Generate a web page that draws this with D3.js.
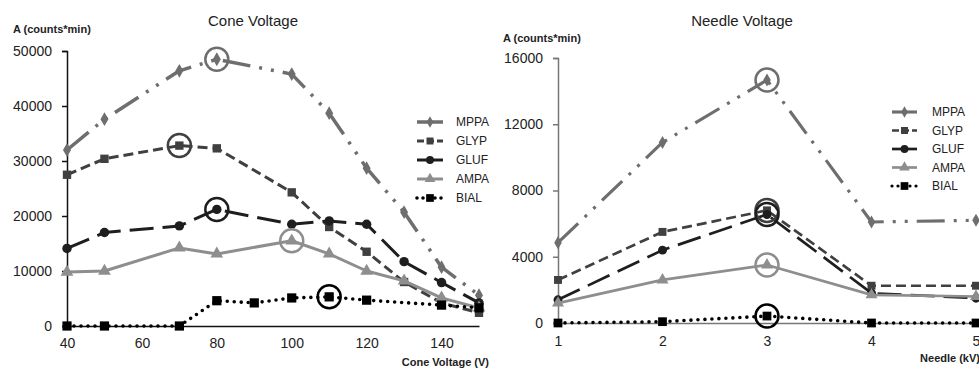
<!DOCTYPE html>
<html><head><meta charset="utf-8">
<script src="https://cdn.jsdelivr.net/npm/d3@7"></script>
<style>body{margin:0;background:#fff}svg{display:block;font-family:"Liberation Sans",Arial,sans-serif}</style>
</head><body><svg id="c" width="979" height="369"></svg>
<script>
// ---- data ----
const seriesNames = ["MPPA","GLYP","GLUF","AMPA","BIAL"];
const coneX = [40,50,70,80,100,110,120,130,140,150];
const coneXBial = [40,50,70,80,90,100,110,120,140,150];
const coneMPPA = [32000,37600,46400,48500,45800,38700,28700,20700,10700,5600];
const coneGLYP = [27500,30400,32800,32300,24300,18000,13500,8000,4200,2400];
const coneGLUF = [14100,17000,18200,21200,18500,19100,18500,11700,7900,4200];
const coneAMPA = [9800,10000,14200,13100,15500,13100,10000,8200,5100,3300];
const coneBIAL = [0,0,0,4600,4200,5100,5300,4700,3800,3300];
const coneHighlightX = [80,70,80,100,110];
const coneXTicks = [40,60,80,100,120,140];
const coneYTicks = [0,10000,20000,30000,40000,50000];

const needleX = [1,2,3,4,5];
const needleMPPA = [4850,10900,14670,6100,6200];
const needleGLYP = [2600,5500,6800,2250,2250];
const needleGLUF = [1400,4400,6550,1800,1500];
const needleAMPA = [1200,2600,3500,1700,1600];
const needleBIAL = [0,80,420,0,0];
const needleHighlightX = [3,3,3,3,3];
const needleXTicks = [1,2,3,4,5];
const needleYTicks = [0,4000,8000,12000,16000];

// ---- styles ----
const styles = {
  MPPA:{color:"#6e6e6e", dash:"28,9,3,9,3,9", width:3.5, marker:"diamond", msize:55},
  GLYP:{color:"#404040", dash:"10,5", width:3, marker:"square", msize:70},
  GLUF:{color:"#1e1e1e", dash:"24,9", width:3, marker:"circle", msize:70},
  AMPA:{color:"#8e8e8e", dash:null, width:3, marker:"triangle", msize:70},
  BIAL:{color:"#000000", dash:"0,7", width:3.6, marker:"square", msize:85, round:true}
};
const symType = {diamond:d3.symbolDiamond, square:d3.symbolSquare, circle:d3.symbolCircle, triangle:d3.symbolTriangle};

const svg = d3.select("#c");

function drawChart(cfg){
  const g = svg.append("g");
  const x = d3.scaleLinear().domain(cfg.xDomain).range(cfg.xRange);
  const y = d3.scaleLinear().domain(cfg.yDomain).range(cfg.yRange);
  // axes
  const ya = g.append("g").attr("transform",`translate(${cfg.xRange[0]},0)`)
    .call(d3.axisLeft(y).tickValues(cfg.yTicks).tickSize(5).tickPadding(10).tickFormat(d3.format("d")));
  ya.select(".domain").attr("stroke",cfg.axisColor).attr("stroke-width",1.5);
  ya.selectAll(".tick line").attr("stroke",cfg.axisColor).attr("stroke-width",1.5);
  ya.selectAll(".tick text").attr("font-size",14).attr("fill","#222").attr("font-family","Liberation Sans, Arial, sans-serif");
  const xa = g.append("g").attr("transform",`translate(0,${cfg.yRange[0]})`)
    .call(d3.axisBottom(x).tickValues(cfg.xTicks).tickSize(0).tickPadding(cfg.xPad).tickFormat(d3.format("d")));
  xa.select(".domain").attr("stroke",cfg.axisColor).attr("stroke-width",1.5);
  xa.selectAll(".tick text").attr("font-size",14).attr("fill","#222").attr("font-family","Liberation Sans, Arial, sans-serif");
  // titles
  g.append("text").attr("x",cfg.titleX).attr("y",26).attr("text-anchor","middle")
    .attr("font-size",15).attr("fill","#222").text(cfg.title);
  g.append("text").attr("x",cfg.yTitleX).attr("y",cfg.yTitleY).attr("font-size",11).attr("font-weight","bold")
    .attr("fill","#222").text("A (counts*min)");
  g.append("text").attr("x",cfg.xTitleX).attr("y",cfg.xTitleY).attr("text-anchor","end").attr("font-size",11).attr("font-weight","bold")
    .attr("fill","#222").text(cfg.xTitle);
  // series
  const line = d3.line().x(d=>x(d[0])).y(d=>y(d[1]));
  cfg.series.forEach((s,i)=>{
    const st = styles[s.name];
    const pts = s.xs.map((v,j)=>[v,s.ys[j]]);
    g.append("path").datum(pts).attr("d",line).attr("fill","none")
      .attr("stroke",st.color).attr("stroke-width",st.round?st.width:st.width*cfg.lineScale)
      .attr("stroke-dasharray",st.dash).attr("stroke-linecap",st.round?"round":"butt")
      .attr("stroke-linejoin","round");
    g.selectAll(null).data(pts).enter().append("path")
      .attr("transform",d=>`translate(${x(d[0])},${y(d[1])})`)
      .attr("d",d3.symbol().type(symType[st.marker]).size(st.msize*cfg.markScale))
      .attr("fill",st.color);
  });
  // highlight circles
  cfg.series.forEach((s,i)=>{
    const st = styles[s.name];
    const hx = cfg.highlight[i];
    const j = s.xs.indexOf(hx);
    g.append("circle").attr("cx",x(hx)).attr("cy",y(s.ys[j])).attr("r",11.5)
      .attr("fill","none").attr("stroke",st.color).attr("stroke-width",2.5);
  });
  // legend
  cfg.series.forEach((s,i)=>{
    const st = styles[s.name];
    const ly = cfg.legY + i*cfg.legStep;
    g.append("line").attr("x1",cfg.legX).attr("x2",cfg.legX+cfg.legW).attr("y1",ly).attr("y2",ly)
      .attr("stroke",st.color).attr("stroke-width",st.width*cfg.lineScale)
      .attr("stroke-dasharray",s.name==="BIAL"?"0,6":(s.name==="GLYP"?"7,3":null))
      .attr("stroke-linecap",st.round?"round":"butt");
    g.append("path").attr("transform",`translate(${cfg.legX+cfg.legW/2},${ly})`)
      .attr("d",d3.symbol().type(symType[st.marker]).size(st.msize*0.7)).attr("fill",st.color);
    g.append("text").attr("x",cfg.legTextX).attr("y",ly+4).attr("font-size",12).attr("fill","#222").text(s.name);
  });
}

drawChart({
  xDomain:[40,150], xRange:[67,479], yDomain:[0,50000], yRange:[326,51],
  xTicks:coneXTicks, yTicks:coneYTicks, axisColor:"#111", xPad:12,
  title:"Cone Voltage", titleX:253, yTitleX:13, yTitleY:33,
  xTitle:"Cone Voltage (V)", xTitleX:489, xTitleY:366,
  lineScale:1, markScale:1, highlight:coneHighlightX,
  legX:417, legW:26, legTextX:456, legY:122, legStep:19,
  series:[
    {name:"MPPA", xs:coneX, ys:coneMPPA},
    {name:"GLYP", xs:coneX, ys:coneGLYP},
    {name:"GLUF", xs:coneX, ys:coneGLUF},
    {name:"AMPA", xs:coneX, ys:coneAMPA},
    {name:"BIAL", xs:coneXBial, ys:coneBIAL}
  ]
});
drawChart({
  xDomain:[1,5], xRange:[558,976], yDomain:[0,16000], yRange:[323,58],
  xTicks:needleXTicks, yTicks:needleYTicks, axisColor:"#777", xPad:13,
  title:"Needle Voltage", titleX:742, yTitleX:503, yTitleY:42,
  xTitle:"Needle (kV)", xTitleX:980, xTitleY:362,
  lineScale:0.9, markScale:0.9, highlight:needleHighlightX,
  legX:892, legW:25, legTextX:932, legY:112, legStep:18.5,
  series:[
    {name:"MPPA", xs:needleX, ys:needleMPPA},
    {name:"GLYP", xs:needleX, ys:needleGLYP},
    {name:"GLUF", xs:needleX, ys:needleGLUF},
    {name:"AMPA", xs:needleX, ys:needleAMPA},
    {name:"BIAL", xs:needleX, ys:needleBIAL}
  ]
});
</script></body></html>
